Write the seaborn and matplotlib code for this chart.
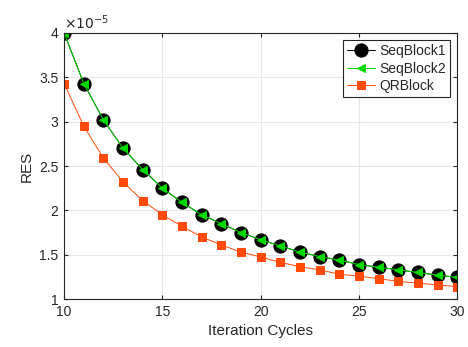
import numpy as np
import pandas as pd
import seaborn as sns
import matplotlib.pyplot as plt

# values, in units of 1e-5
cycles = list(range(10, 31))
seq1 = [4.00, 3.43, 3.02, 2.70, 2.46, 2.25, 2.09, 1.95, 1.85, 1.75, 1.67,
        1.60, 1.53, 1.48, 1.44, 1.39, 1.36, 1.33, 1.30, 1.27, 1.245]
seq2 = [4.00, 3.43, 3.02, 2.70, 2.46, 2.25, 2.09, 1.95, 1.85, 1.75, 1.67,
        1.60, 1.53, 1.48, 1.44, 1.39, 1.36, 1.33, 1.30, 1.27, 1.245]
qr = [3.43, 2.95, 2.59, 2.32, 2.11, 1.95, 1.82, 1.70, 1.61, 1.53, 1.475,
      1.415, 1.365, 1.33, 1.28, 1.26, 1.23, 1.20, 1.18, 1.16, 1.14]
xticks = [10, 15, 20, 25, 30]
yticks = [1, 1.5, 2, 2.5, 3, 3.5, 4]

sns.set_style("whitegrid")
plt.rcParams['font.family'] = ['Liberation Sans', 'DejaVu Sans']

fig = plt.figure(figsize=(4.68, 3.47), dpi=100)
ax = fig.add_axes([0.137, 0.138, 0.840, 0.767])

sns.lineplot(x=cycles, y=seq1, ax=ax, color='black', marker='o', markersize=9.5,
             markeredgecolor='black', linewidth=0.7, label='SeqBlock1')
sns.lineplot(x=cycles, y=seq2, ax=ax, color='#00d800', marker='<', markersize=5.5,
             markeredgecolor='#00d800', linewidth=0.7, label='SeqBlock2')
sns.lineplot(x=cycles, y=qr, ax=ax, color='#ff4a0a', marker='s', markersize=6,
             markeredgecolor='#ff4a0a', linewidth=0.7, label='QRBlock')

ax.set_xlim(10, 30)
ax.set_ylim(1, 4)
ax.set_xticks(xticks)
ax.set_yticks(yticks)
ax.set_yticklabels(['1', '1.5', '2', '2.5', '3', '3.5', '4'])
ax.set_xlabel('Iteration Cycles', fontsize=11, color='#262626')
ax.set_ylabel('RES', fontsize=11, color='#262626')
ax.text(0.0, 1.005, r'$\times 10^{-5}$', transform=ax.transAxes, fontsize=10,
        color='#262626', ha='left', va='bottom')

ax.grid(True, color='#e6e6e6', linewidth=0.8)
ax.tick_params(direction='in', length=3, labelsize=10, colors='#262626',
               top=True, right=True, bottom=True, left=True, pad=4)
for s in ax.spines.values():
    s.set_color('#262626')
    s.set_linewidth(0.8)
    s.set_visible(True)

leg = ax.legend(loc='upper right', fontsize=10, frameon=True, fancybox=False,
                framealpha=1, edgecolor='#262626', handlelength=2.0,
                borderpad=0.3, labelspacing=0.25, handletextpad=0.3,
                borderaxespad=0.5)
leg.get_frame().set_linewidth(0.8)

fig.savefig('out.png', dpi=100)
